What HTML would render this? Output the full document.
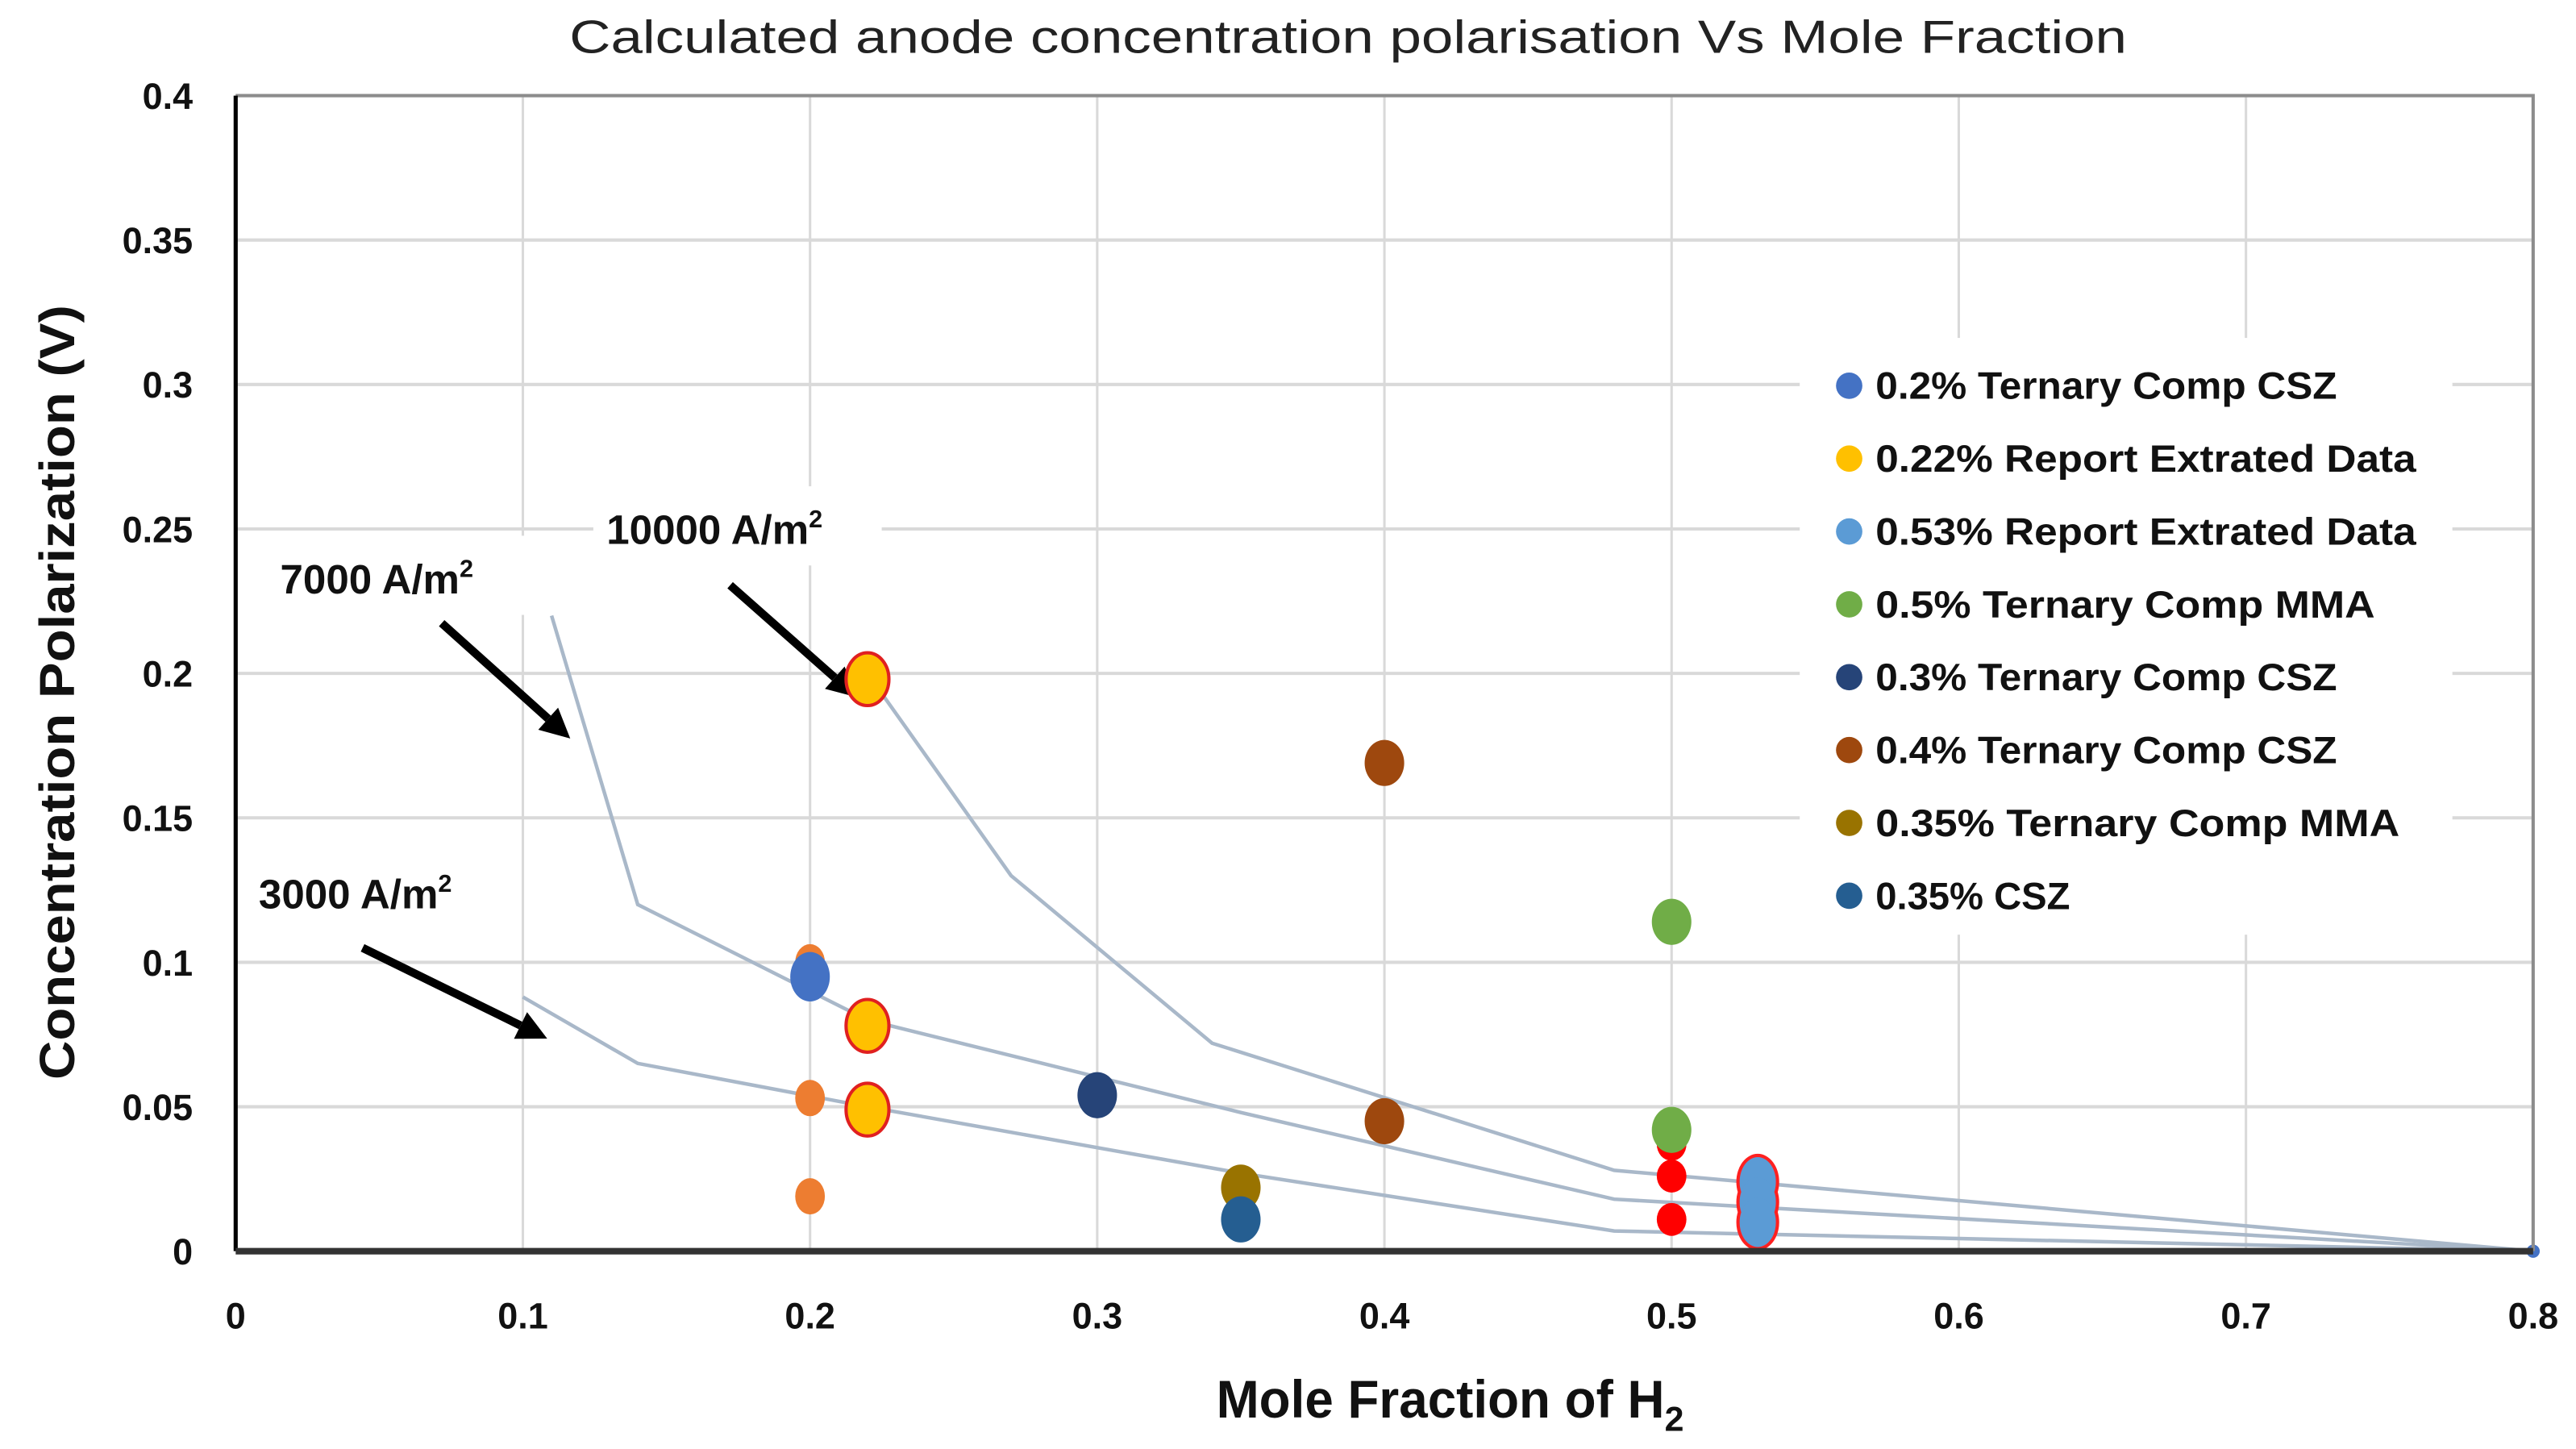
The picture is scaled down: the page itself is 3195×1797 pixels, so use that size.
<!DOCTYPE html>
<html><head><meta charset="utf-8"><style>
html,body{margin:0;padding:0;background:#fff;}
svg{display:block;}
text{font-family:"Liberation Sans",sans-serif;}
</style></head><body>
<svg id="chart" width="3195" height="1797" viewBox="0 0 1563 879" preserveAspectRatio="none" xmlns="http://www.w3.org/2000/svg">
<rect width="1563" height="879" fill="#fff"/>
<text x="818" y="32" font-size="28" text-anchor="middle" fill="#222" textLength="945" lengthAdjust="spacingAndGlyphs">Calculated anode concentration polarisation Vs Mole Fraction</text>
<g id="grid"></g>
<g id="lines"></g>
<g id="annot"></g>
<g id="points"></g>
<g id="axes"></g>
<g id="legend"></g>
</svg>
<script>
const xTicks=[0,0.1,0.2,0.3,0.4,0.5,0.6,0.7,0.8];
const yTicks=[0,0.05,0.1,0.15,0.2,0.25,0.3,0.35,0.4];
const xTickLabels=["0","0.1","0.2","0.3","0.4","0.5","0.6","0.7","0.8"];
const yTickLabels=["0","0.05","0.1","0.15","0.2","0.25","0.3","0.35","0.4"];
const line10000X=[0.22,0.27,0.34,0.48,0.8];
const line10000Y=[0.2,0.13,0.072,0.028,0];
const line7000X=[0.11,0.14,0.22,0.35,0.48,0.8];
const line7000Y=[0.22,0.12,0.08,0.048,0.018,0];
const line3000X=[0.1,0.14,0.22,0.35,0.48,0.8];
const line3000Y=[0.088,0.065,0.05,0.027,0.007,0];
const seriesNames=["0.2% Ternary Comp CSZ","0.22% Report Extrated Data","0.53% Report Extrated Data","0.5% Ternary Comp MMA","0.3% Ternary Comp CSZ","0.4% Ternary Comp CSZ","0.35% Ternary Comp MMA","0.35% CSZ"];
const seriesColors=["#4472c4","#ffc000","#5b9bd5","#70ad47","#264478","#9e480e","#997300","#255e91"];
const legendWidths=[280,328,328,303,280,280,318,118];
const orangeX=[0.2,0.2,0.2]; const orangeY=[0.1,0.053,0.019];
const redX=[0.5,0.5,0.5]; const redY=[0.037,0.026,0.011];
const s0X=[0.2]; const s0Y=[0.095];
const s1X=[0.22,0.22,0.22]; const s1Y=[0.198,0.078,0.049];
const s2X=[0.53,0.53,0.53]; const s2Y=[0.024,0.017,0.010];
const s3X=[0.5,0.5]; const s3Y=[0.114,0.042];
const s4X=[0.3]; const s4Y=[0.054];
const s5X=[0.4,0.4]; const s5Y=[0.169,0.045];
const s6X=[0.35]; const s6Y=[0.022];
const s7X=[0.35,0.8]; const s7Y=[0.011,0];

const NS="http://www.w3.org/2000/svg";
const X0=143,X1=1537,Y0=759,Y1=58;
function sx(v){return X0+(X1-X0)*v/0.8;}
function sy(v){return Y0-(Y0-Y1)*v/0.4;}
function mk(tag,attrs,parent){const e=document.createElementNS(NS,tag);for(const k in attrs)e.setAttribute(k,attrs[k]);document.getElementById(parent).appendChild(e);return e;}

xTicks.forEach((t,i)=>{
 if(i>0){const l=mk('line',{x1:sx(t),x2:sx(t),y1:Y1,y2:Y0,stroke:'#d9d9d9','stroke-width':1.5},'grid');
 
 }
 const tx=mk('text',{x:sx(t),y:806,'font-size':22,'font-weight':'bold','text-anchor':'middle',fill:'#111'},'axes');
 tx.textContent=xTickLabels[i];
 
 
});
yTicks.forEach((t,i)=>{
 if(i>0){const l=mk('line',{x1:X0,x2:X1,y1:sy(t),y2:sy(t),stroke:'#d9d9d9','stroke-width':2},'grid');
 
 }
 const tx=mk('text',{x:117,y:sy(t)+8,'font-size':22,'font-weight':'bold','text-anchor':'end',fill:'#111'},'axes');
 tx.textContent=yTickLabels[i];
 
 
});
let r=mk('rect',{x:1092,y:205,width:396,height:362,fill:'#fff'},'grid');


[[160,325,160,48],[360,295,175,48],[150,515,160,48]].forEach(b=>{
 const q=mk('rect',{x:b[0],y:b[1],width:b[2],height:b[3],fill:'#fff'},'grid');
 
 
});
const bord=mk('path',{d:`M${X0} ${Y1} H${X1} V${Y0}`,fill:'none',stroke:'#8c8c8c','stroke-width':2},'axes');


const ya=mk('line',{x1:X0,x2:X0,y1:Y1,y2:Y0,stroke:'#000','stroke-width':2.5},'axes');


const xa=mk('line',{x1:X0,x2:X1,y1:Y0,y2:Y0,stroke:'#333','stroke-width':4},'axes');


let yt=mk('text',{x:0,y:0,'font-size':30,'font-weight':'bold','text-anchor':'middle',fill:'#111',transform:'translate(45,420) rotate(-90)',textLength:470,lengthAdjust:'spacingAndGlyphs'},'axes');
yt.textContent='Concentration Polarization (V)';


let xt=mk('text',{x:738,y:860,'font-size':32,'font-weight':'bold',fill:'#111'},'axes');
xt.innerHTML='<tspan textLength="272" lengthAdjust="spacingAndGlyphs">Mole Fraction of H</tspan><tspan font-size="21" dy="8">2</tspan>';



function poly(xs,ys,name){
 const p=mk('polyline',{points:xs.map((x,i)=>sx(x)+','+sy(ys[i])).join(' '),fill:'none',stroke:'#a9b8c9','stroke-width':2.2},'lines');
 
 
}
poly(line10000X,line10000Y,'line-10000');
poly(line7000X,line7000Y,'line-7000');
poly(line3000X,line3000Y,'line-3000');

function pts(xs,ys,fill,stroke,rx,ry,name){
 xs.forEach((x,i)=>{
  const e=mk('ellipse',{cx:sx(x),cy:sy(ys[i]),rx:rx,ry:ry,fill:fill,stroke:stroke,'stroke-width':stroke==='none'?0:2},'points');
  
  
 });
}
pts(orangeX,orangeY,'#ed7d31','none',9,11,'orange-point');
pts(redX,redY,'#ff0000','none',9,10,'red-point');
pts(s0X,s0Y,seriesColors[0],'none',12,15,'point-0.2-csz');
pts(s1X,s1Y,seriesColors[1],'#e02020',13,16,'point-0.22-report');
pts(s2X,s2Y,'#ff2020','none',13,17,'point-0.53-report-outline');
pts(s2X,s2Y,seriesColors[2],'none',11,15,'point-0.53-report');
pts(s3X,s3Y,seriesColors[3],'none',12,14,'point-0.5-mma');
pts(s4X,s4Y,seriesColors[4],'none',12,14,'point-0.3-csz');
pts(s5X,s5Y,seriesColors[5],'none',12,14,'point-0.4-csz');
pts(s6X,s6Y,seriesColors[6],'none',12,14,'point-0.35-mma');
pts(s7X.slice(0,1),s7Y.slice(0,1),seriesColors[7],'none',12,14,'point-0.35-csz');
pts(s7X.slice(1),s7Y.slice(1),seriesColors[0],'none',4,4,'point-origin');

[[170,360,'7000'],[368,330,'10000'],[157,551,'3000']].forEach(a=>{
 const t=mk('text',{x:a[0],y:a[1],'font-size':25,'font-weight':'bold',fill:'#111'},'annot');
 t.innerHTML=a[2]+' A/m<tspan font-size="15" dy="-10">2</tspan>';
 
 
});
[[268,378,346,448],[443,355,520,423],[220,575,332,630]].forEach(a=>{
 const dx=a[2]-a[0],dy=a[3]-a[1],L=Math.hypot(dx,dy),ux=dx/L,uy=dy/L;
 const bx=a[2]-ux*18,by=a[3]-uy*18;
 const l=mk('line',{x1:a[0],y1:a[1],x2:bx,y2:by,stroke:'#000','stroke-width':5},'annot');
 
 
 const h=mk('polygon',{points:`${a[2]},${a[3]} ${bx-uy*9},${by+ux*9} ${bx+uy*9},${by-ux*9}`,fill:'#000'},'annot');
 
 
});

seriesNames.forEach((n,i)=>{
 const y=234+i*44.2;
 const c=mk('circle',{cx:1122,cy:y,r:8,fill:seriesColors[i]},'legend');
 
 
 const t=mk('text',{x:1138,y:y+8,'font-size':23,'font-weight':'bold',fill:'#111',textLength:legendWidths[i],lengthAdjust:'spacingAndGlyphs'},'legend');
 t.textContent=n;
 
 
});
</script>
</body></html>
